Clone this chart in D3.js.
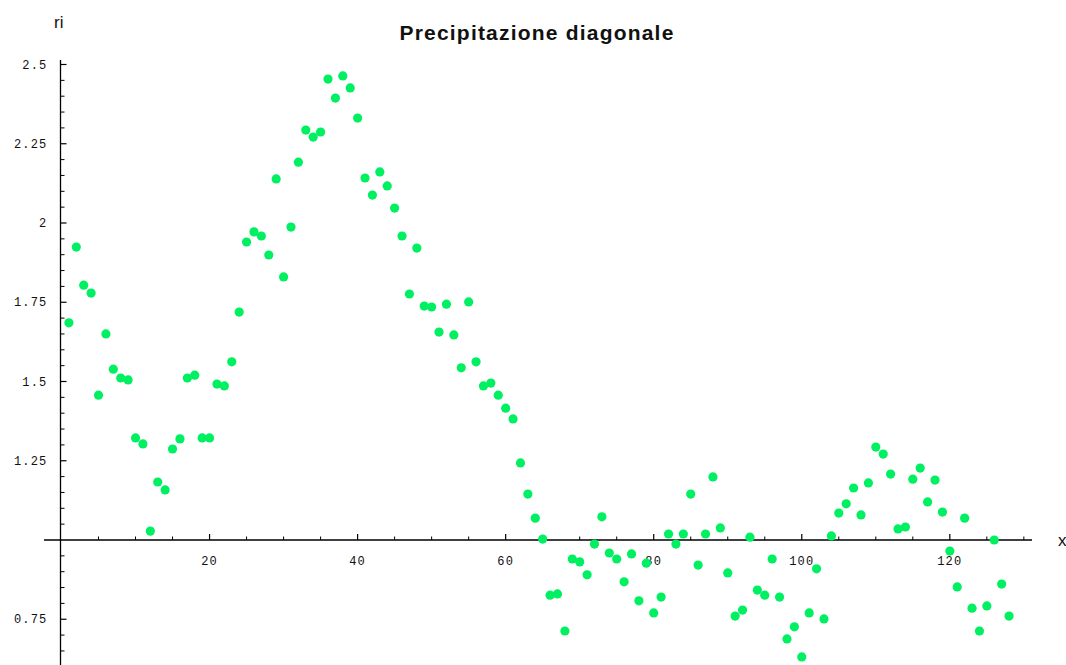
<!DOCTYPE html>
<html>
<head>
<meta charset="utf-8">
<script src="https://cdn.jsdelivr.net/npm/d3@7"></script>
<style>
  html, body { margin: 0; padding: 0; background: #fff; }
  svg { display: block; }
</style>
</head>
<body>
<svg id="chart" width="1066" height="665"></svg>
<script>
// Sample index and diagonal precipitation value (ri)
const xs = d3.range(1, 129);
const ri = [
  1.685, 1.924, 1.804, 1.779, 1.457, 1.650, 1.539, 1.511, 1.505, 1.322,
  1.303, 1.028, 1.183, 1.158, 1.287, 1.319, 1.511, 1.520, 1.322, 1.322,
  1.492, 1.486, 1.562, 1.719, 1.940, 1.972, 1.959, 1.899, 2.139, 1.830,
  1.987, 2.192, 2.293, 2.271, 2.287, 2.454, 2.394, 2.464, 2.426, 2.331,
  2.142, 2.088, 2.161, 2.117, 2.047, 1.959, 1.776, 1.921, 1.738, 1.735,
  1.656, 1.744, 1.647, 1.543, 1.751, 1.562, 1.486, 1.495, 1.457, 1.416,
  1.382, 1.243, 1.145, 1.069, 1.003, 0.826, 0.830, 0.713, 0.940, 0.931,
  0.890, 0.987, 1.073, 0.959, 0.940, 0.868, 0.956, 0.808, 0.927, 0.770,
  0.820, 1.019, 0.987, 1.019, 1.145, 0.921, 1.019, 1.199, 1.038, 0.896,
  0.760, 0.779, 1.009, 0.842, 0.826, 0.940, 0.820, 0.688, 0.726, 0.631,
  0.770, 0.909, 0.751, 1.013, 1.085, 1.114, 1.164, 1.079, 1.180, 1.293,
  1.271, 1.208, 1.035, 1.041, 1.192, 1.227, 1.120, 1.189, 1.088, 0.965,
  0.852, 1.069, 0.785, 0.713, 0.792, 1.000, 0.861, 0.760
];

const xMajorTicks = [20, 40, 60, 80, 100, 120];
const xMinorTicks = d3.range(5, 131, 5).filter(v => v % 20 !== 0);
const yMajorTicks = [0.75, 1.25, 1.5, 1.75, 2, 2.25, 2.5];
const yMinorTicks = d3.range(0.65, 2.51, 0.05).map(v => +v.toFixed(2)).filter(v => Math.abs(v * 4 - Math.round(v * 4)) > 1e-6);

const svg = d3.select("#chart");

// Axes cross at x = 0, y = 1
const x = d3.scaleLinear().domain([0, 131.1]).range([61.5, 1032]);
const y = d3.scaleLinear().domain([1, 2.5]).range([540, 64.5]);

const tickFont = "Liberation Mono, DejaVu Sans Mono, monospace";

// Title and axis labels
svg.append("text")
  .attr("x", 537).attr("y", 40)
  .attr("text-anchor", "middle")
  .attr("font-family", "Liberation Sans, Arial, sans-serif")
  .attr("font-weight", "bold")
  .attr("font-size", 21)
  .attr("letter-spacing", 1.2)
  .attr("fill", "#111")
  .text("Precipitazione diagonale");

svg.append("text")
  .attr("x", 54).attr("y", 28)
  .attr("font-family", "Liberation Sans, Arial, sans-serif")
  .attr("font-size", 17)
  .attr("fill", "#111")
  .text("ri");

svg.append("text")
  .attr("x", 1058).attr("y", 546)
  .attr("font-family", "Liberation Sans, Arial, sans-serif")
  .attr("font-size", 17)
  .attr("fill", "#111")
  .text("x");

// Horizontal axis (ticks point up, labels below)
const xAxisG = svg.append("g").attr("transform", `translate(0,${y(1)})`);
xAxisG.append("line")
  .attr("x1", 44).attr("x2", 1032)
  .attr("stroke", "#000").attr("stroke-width", 1.3);
xAxisG.selectAll("line.major").data(xMajorTicks).join("line")
  .attr("class", "major")
  .attr("x1", d => x(d)).attr("x2", d => x(d))
  .attr("y1", 0).attr("y2", -6)
  .attr("stroke", "#000").attr("stroke-width", 1.2);
xAxisG.selectAll("line.minor").data(xMinorTicks).join("line")
  .attr("class", "minor")
  .attr("x1", d => x(d)).attr("x2", d => x(d))
  .attr("y1", 0).attr("y2", -3.5)
  .attr("stroke", "#000").attr("stroke-width", 1);
xAxisG.selectAll("text").data(xMajorTicks).join("text")
  .attr("x", d => x(d)).attr("y", 25)
  .attr("text-anchor", "middle")
  .attr("font-family", tickFont)
  .attr("font-size", 12)
  .attr("letter-spacing", 1.2)
  .attr("fill", "#111")
  .text(d => d);

// Vertical axis (ticks point right, labels left)
const yAxisG = svg.append("g").attr("transform", `translate(${x(0) - 1},0)`);
yAxisG.append("line")
  .attr("y1", 60).attr("y2", 665)
  .attr("stroke", "#000").attr("stroke-width", 1.3);
yAxisG.selectAll("line.major").data(yMajorTicks).join("line")
  .attr("class", "major")
  .attr("y1", d => y(d)).attr("y2", d => y(d))
  .attr("x1", 0).attr("x2", 6)
  .attr("stroke", "#000").attr("stroke-width", 1.2);
yAxisG.selectAll("line.minor").data(yMinorTicks).join("line")
  .attr("class", "minor")
  .attr("y1", d => y(d)).attr("y2", d => y(d))
  .attr("x1", 0).attr("x2", 4)
  .attr("stroke", "#000").attr("stroke-width", 1);
yAxisG.selectAll("text").data(yMajorTicks).join("text")
  .attr("x", -13).attr("y", d => y(d) + 4)
  .attr("text-anchor", "end")
  .attr("font-family", tickFont)
  .attr("font-size", 12)
  .attr("letter-spacing", 1.2)
  .attr("fill", "#111")
  .text(d => d);

// Data points
svg.append("g").selectAll("circle").data(xs).join("circle")
  .attr("cx", d => x(d))
  .attr("cy", (d, i) => y(ri[i]))
  .attr("r", 4.6)
  .attr("fill", "#00f062");
</script>
</body>
</html>
